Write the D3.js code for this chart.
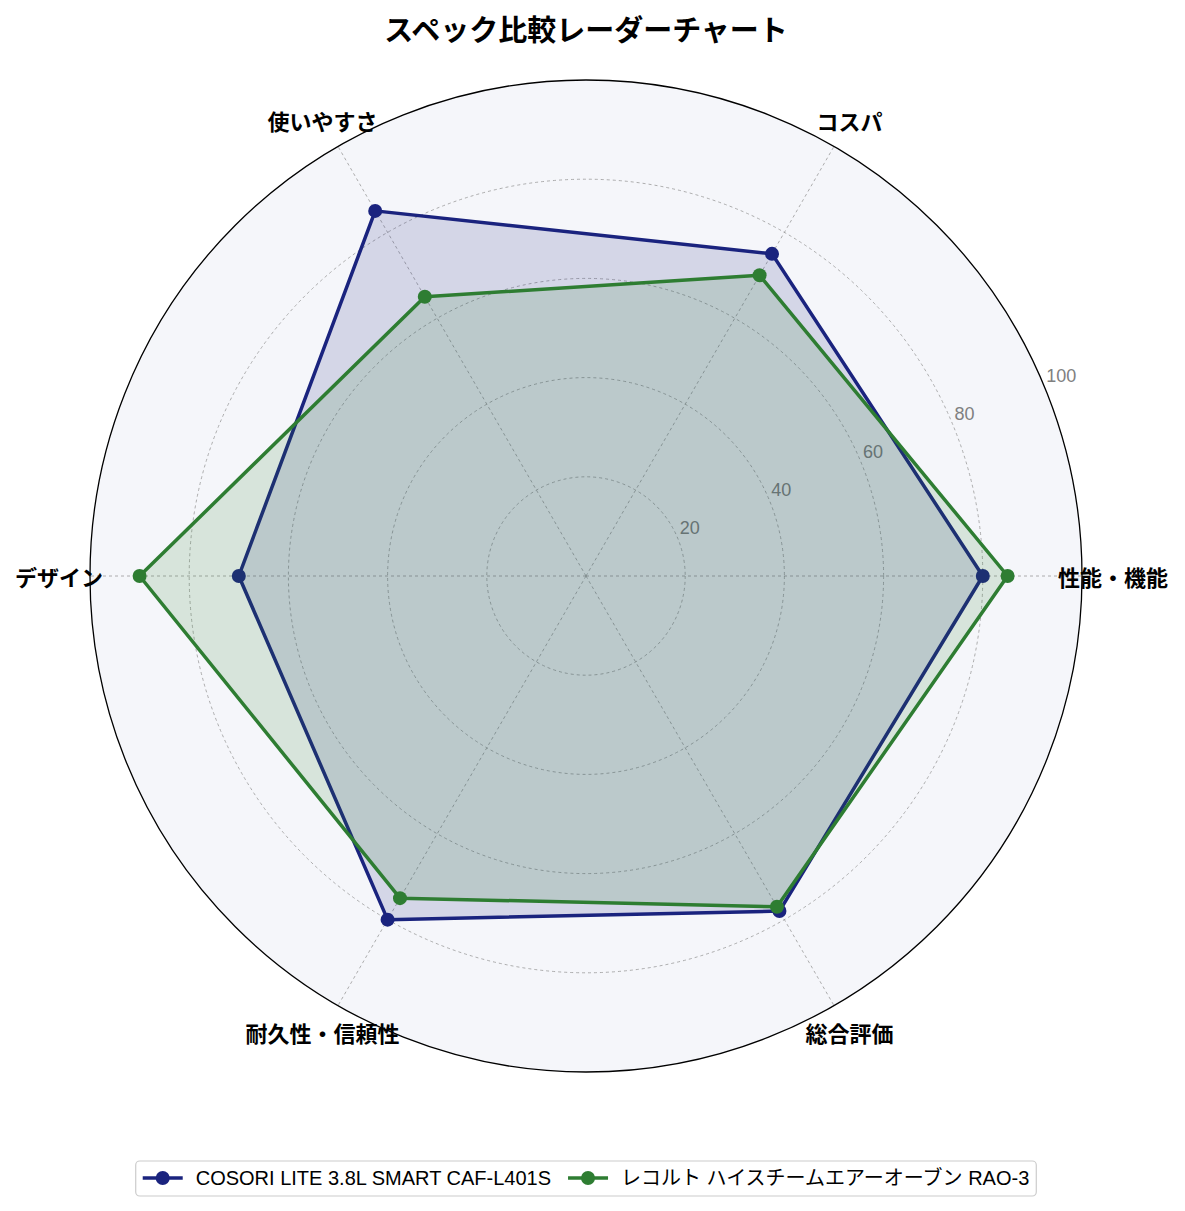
<html>
<head>
<meta charset="utf-8">
<script src="https://cdn.jsdelivr.net/npm/d3@7"></script>
<style>
  body { margin: 0; background: #fff; font-family: "Noto Sans CJK JP", "Noto Sans", sans-serif; }
  .grid { fill: none; stroke: #999; stroke-width: 0.8px; stroke-dasharray: 3,3; }
  .tick-label { fill: #808080; font-size: 18px; font-family: "Liberation Sans", "Noto Sans CJK JP", sans-serif; }
  .axis-label { font-size: 22px; font-weight: bold; fill: #000; }
  .legend-text { font-size: 20px; font-family: "Liberation Sans", "Noto Sans CJK JP", sans-serif; }
</style>
</head>
<body>
<svg id="chart"></svg>
<script>
var width = 1185, height = 1211;
var cx = 586, cy = 576, radius = 496;

// chart data
var categories = ["性能・機能", "コスパ", "使いやすさ", "デザイン", "耐久性・信頼性", "総合評価"];
var cosoriValues = [80, 75, 85, 70, 80, 78];
var recoltValues = [85, 70, 65, 90, 75, 77];
var seriesNames = ["COSORI LITE 3.8L SMART CAF-L401S", "レコルト ハイスチームエアーオーブン RAO-3"];
var seriesColors = ["#1a237e", "#2e7d32"];
var rTicks = [20, 40, 60, 80, 100];

var series = [cosoriValues, recoltValues];

var svg = d3.select("#chart").attr("width", width).attr("height", height);
svg.append("rect").attr("width", width).attr("height", height).attr("fill", "#fff");

var r = d3.scaleLinear().domain([0, 100]).range([0, radius]);
var angle = d3.scaleLinear().domain([0, categories.length]).range([0, 2 * Math.PI]);

// math angle (counter-clockwise from east) to screen coords
function pt(i, v) {
  var a = angle(i);
  return [Math.cos(a) * r(v), -Math.sin(a) * r(v)];
}

var g = svg.append("g").attr("transform", "translate(" + cx + "," + cy + ")");

g.append("circle").attr("r", radius).attr("fill", "#f5f6fa");

// grid rings
g.selectAll(".ring").data(rTicks.slice(0, -1)).enter().append("circle")
  .attr("class", "grid").attr("r", function(d) { return r(d); });

// spokes
g.selectAll(".spoke").data(categories).enter().append("line")
  .attr("class", "grid")
  .attr("x1", 0).attr("y1", 0)
  .attr("x2", function(d, i) { return pt(i, 100)[0]; })
  .attr("y2", function(d, i) { return pt(i, 100)[1]; });

// radial tick labels at 22.5 degrees
var labAng = 22.5 * Math.PI / 180;
g.selectAll(".tick-label").data(rTicks).enter().append("text")
  .attr("class", "tick-label")
  .attr("x", function(d) { return Math.cos(labAng) * r(d) + 2; })
  .attr("y", function(d) { return -Math.sin(labAng) * r(d) - 4; })
  .text(function(d) { return d; });

// series
var line = d3.line()
  .x(function(d, i) { return pt(i, d)[0]; })
  .y(function(d, i) { return pt(i, d)[1]; })
  .curve(d3.curveLinearClosed);

series.forEach(function(vals, s) {
  var sg = g.append("g");
  sg.append("path").attr("d", line(vals))
    .attr("fill", seriesColors[s]).attr("fill-opacity", 0.15);
  sg.append("path").attr("d", line(vals))
    .attr("fill", "none").attr("stroke", seriesColors[s])
    .attr("stroke-width", 3.5).attr("stroke-linejoin", "round");
  sg.selectAll("circle").data(vals).enter().append("circle")
    .attr("cx", function(d, i) { return pt(i, d)[0]; })
    .attr("cy", function(d, i) { return pt(i, d)[1]; })
    .attr("r", 7).attr("fill", seriesColors[s]);
});

// outer circle
g.append("circle").attr("r", radius).attr("fill", "none").attr("stroke", "#000").attr("stroke-width", 1.3);

// category labels
g.selectAll(".axis-label").data(categories).enter().append("text")
  .attr("class", "axis-label")
  .attr("text-anchor", "middle")
  .attr("dominant-baseline", "central")
  .attr("x", function(d, i) { return Math.cos(angle(i)) * (radius + 31); })
  .attr("y", function(d, i) { return -Math.sin(angle(i)) * (radius + 31); })
  .text(function(d) { return d; });

// title
svg.append("text").attr("x", cx).attr("y", 28)
  .attr("text-anchor", "middle").attr("dominant-baseline", "central")
  .attr("font-size", 29).attr("font-weight", "bold")
  .text("スペック比較レーダーチャート");

// legend, centred under the chart
var legend = svg.append("g");
var box = legend.append("rect")
  .attr("y", 1161).attr("height", 35)
  .attr("rx", 4).attr("fill", "#fff").attr("stroke", "#ccc").attr("stroke-width", 1.2);
var lx = 0;
var items = legend.append("g");
seriesNames.forEach(function(name, s) {
  var item = items.append("g").attr("transform", "translate(" + lx + ",1178)");
  item.append("line").attr("x1", 0).attr("x2", 40).attr("stroke", seriesColors[s]).attr("stroke-width", 3.5);
  item.append("circle").attr("cx", 20).attr("r", 7).attr("fill", seriesColors[s]);
  var t = item.append("text").attr("class", "legend-text").attr("x", 53).attr("dominant-baseline", "central")
    .text(name);
  lx += 53 + t.node().getComputedTextLength() + 17;
});
var itemsW = lx - 17;
var x0 = cx - itemsW / 2;
items.attr("transform", "translate(" + x0 + ",0)");
box.attr("x", x0 - 7).attr("width", itemsW + 14);
</script>
</body>
</html>
